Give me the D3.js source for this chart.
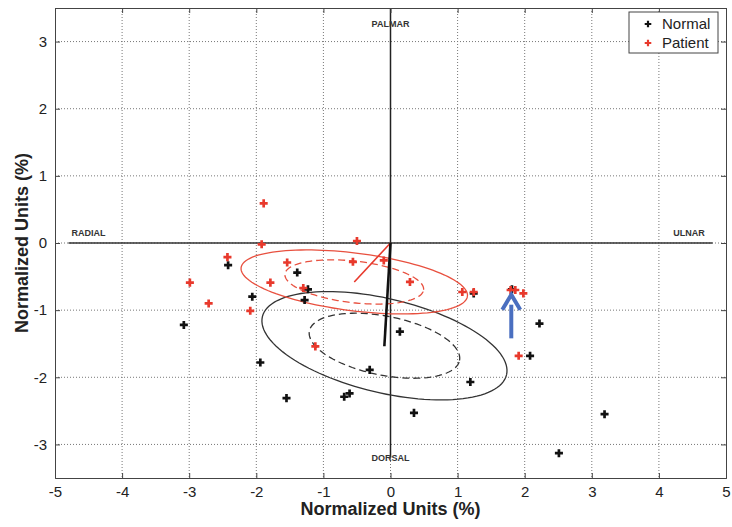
<!DOCTYPE html>
<html>
<head>
<meta charset="utf-8">
<script src="https://cdn.jsdelivr.net/npm/d3@7"></script>
<style>
  body { margin: 0; background: #fff; }
  svg { font-family: "Liberation Sans", Arial, sans-serif; }
</style>
</head>
<body>
<svg width="732" height="527"></svg>
<script>
let svg = d3.select("svg");

// ticks
const xTicks = [-5, -4, -3, -2, -1, 0, 1, 2, 3, 4, 5];
const yTicks = [-3, -2, -1, 0, 1, 2, 3];

// Normal group (black)
const normalX = [-3.08, -2.06, -2.42, -1.94, -1.55, -1.39, -1.23, -1.28, -0.69, -0.61,
                 -0.31, 0.14, 0.35, 1.19, 1.24, 1.81, 2.22, 2.08, 3.19, 2.51];
const normalY = [-1.22, -0.80, -0.33, -1.78, -2.31, -0.44, -0.69, -0.85, -2.29, -2.24,
                 -1.89, -1.32, -2.53, -2.07, -0.75, -0.69, -1.20, -1.68, -2.55, -3.13];

// Patient group (red)
const patientX = [-1.89, -1.92, -0.50, -2.43, -2.99, -1.54, -0.56, -1.79, -1.30, -2.71,
                  -2.09, -0.10, 0.29, 1.07, 1.24, 1.79, 1.86, 1.98, 1.91, -1.12];
const patientY = [0.59, -0.02, 0.03, -0.21, -0.59, -0.29, -0.28, -0.59, -0.67, -0.90,
                  -1.01, -0.26, -0.58, -0.73, -0.73, -0.70, -0.70, -0.75, -1.68, -1.54];

// ellipses (centre, semi axes, angle in degrees)
const ellipseGroup = ["Normal", "Normal", "Patient", "Patient"];
const ellipseKind = ["outer", "inner", "outer", "inner"];
const ellipseCx = [-0.09, -0.09, -0.54, -0.54];
const ellipseCy = [-1.53, -1.53, -0.58, -0.58];
const ellipseRx = [1.87, 1.14, 1.70, 1.04];
const ellipseRy = [0.70, 0.44, 0.43, 0.31];
const ellipseAngle = [-13.4, -11.1, -7.2, -6.5];

// direction labels
const dirLabels = ["PALMAR", "RADIAL", "ULNAR", "DORSAL"];
const dirX = [0, -4.5, 4.45, 0];
const dirY = [3.22, 0.1, 0.1, -3.25];

// blue arrow (annotation)
const arrowX = 1.8;
const arrowY = [-1.42, -0.77];

const red = "#e8392c";
const black = "#111";

let x = d3.scaleLinear().domain([-5, 5]).range([55, 726]);
let y = d3.scaleLinear().domain([-3.5, 3.5]).range([478, 8]);

// grille pointillée
svg.append("g")
    .selectAll("line")
    .data(xTicks.slice(1, -1))
    .join("line")
    .attr("x1", d => x(d)).attr("x2", d => x(d))
    .attr("y1", y(3.5)).attr("y2", y(-3.5))
    .attr("stroke", "#777")
    .attr("stroke-width", 1)
    .attr("stroke-dasharray", "1,2");

svg.append("g")
    .selectAll("line")
    .data(yTicks)
    .join("line")
    .attr("x1", x(-5)).attr("x2", x(5))
    .attr("y1", d => y(d)).attr("y2", d => y(d))
    .attr("stroke", "#777")
    .attr("stroke-width", 1)
    .attr("stroke-dasharray", "1,2");

// axes du repère (lignes pleines)
svg.append("line")
    .attr("x1", x(-4.8)).attr("x2", x(4.8))
    .attr("y1", y(0)).attr("y2", y(0))
    .attr("stroke", "#333")
    .attr("stroke-width", 1.6);

svg.append("line")
    .attr("x1", x(0)).attr("x2", x(0))
    .attr("y1", y(3.5)).attr("y2", y(-3.2))
    .attr("stroke", "#222")
    .attr("stroke-width", 1.5);

// cadre + ticks
let noLabel = () => "";
let axisX = d3.axisBottom(x).tickValues(xTicks).tickSize(-5).tickPadding(8).tickFormat(d3.format("d"));
let axisY = d3.axisLeft(y).tickValues(yTicks).tickSize(-5).tickPadding(8).tickFormat(d3.format("d"));

let gx = svg.append("g").attr("transform", `translate(0,${y(-3.5)})`).call(axisX);
let gy = svg.append("g").attr("transform", `translate(${x(-5)},0)`).call(axisY);
svg.append("g").attr("transform", `translate(0,${y(3.5)})`)
    .call(d3.axisTop(x).tickValues(xTicks).tickSize(-5).tickFormat(noLabel));
svg.append("g").attr("transform", `translate(${x(5)},0)`)
    .call(d3.axisRight(y).tickValues(yTicks).tickSize(-5).tickFormat(noLabel));

svg.selectAll(".domain").attr("stroke", "#444");
svg.selectAll(".tick line").attr("stroke", "#444");
[gx, gy].forEach(g => g.selectAll(".tick text")
    .attr("font-size", 15)
    .attr("fill", "#222")
    .attr("font-family", "Liberation Sans, Arial, sans-serif")
    .text(d => d < 0 ? "-" + Math.abs(d) : d));

// titres des axes
svg.append("text")
    .attr("x", x(0))
    .attr("y", 515)
    .attr("text-anchor", "middle")
    .attr("font-size", 18)
    .attr("font-weight", "bold")
    .attr("fill", "#222")
    .text("Normalized Units (%)");

svg.append("text")
    .attr("transform", `translate(28,${y(0)}) rotate(-90)`)
    .attr("text-anchor", "middle")
    .attr("font-size", 18)
    .attr("font-weight", "bold")
    .attr("fill", "#222")
    .text("Normalized Units (%)");

// labels de direction
svg.append("g")
    .selectAll("text")
    .data(dirLabels)
    .join("text")
    .attr("x", (d, i) => x(dirX[i]))
    .attr("y", (d, i) => y(dirY[i]))
    .attr("text-anchor", "middle")
    .attr("font-size", 9)
    .attr("font-weight", "bold")
    .attr("fill", "#333")
    .text(d => d);

// ellipses
function ellipsePoints(i) {
    let a = ellipseAngle[i] * Math.PI / 180;
    return d3.range(0, 361, 3).map(t => {
        let r = t * Math.PI / 180;
        let ex = ellipseRx[i] * Math.cos(r), ey = ellipseRy[i] * Math.sin(r);
        return [ellipseCx[i] + ex * Math.cos(a) - ey * Math.sin(a),
                ellipseCy[i] + ex * Math.sin(a) + ey * Math.cos(a)];
    });
}
let line = d3.line().x(d => x(d[0])).y(d => y(d[1]));

svg.append("g")
    .selectAll("path")
    .data(ellipseGroup)
    .join("path")
    .attr("d", (d, i) => line(ellipsePoints(i)))
    .attr("fill", "none")
    .attr("stroke", d => d == "Normal" ? "#333" : "#e8503f")
    .attr("stroke-width", 1.3)
    .attr("stroke-dasharray", (d, i) => ellipseKind[i] == "inner" ? "7,4" : null);

// vecteurs moyens
let means = [
    { g: "Patient", mx: d3.mean(patientX), my: d3.mean(patientY) },
    { g: "Normal", mx: d3.mean(normalX), my: d3.mean(normalY) }
];
svg.append("g")
    .selectAll("line")
    .data(means)
    .join("line")
    .attr("x1", x(0)).attr("y1", y(0))
    .attr("x2", d => x(d.mx)).attr("y2", d => y(d.my))
    .attr("stroke", d => d.g == "Normal" ? "#111" : red)
    .attr("stroke-width", d => d.g == "Normal" ? 2.6 : 1.6);

// points
let sym = d3.symbol().type(d3.symbolCross).size(36);

svg.append("g")
    .selectAll("path")
    .data(normalX)
    .join("path")
    .attr("d", sym)
    .attr("transform", (d, i) => `translate(${x(d)},${y(normalY[i])})`)
    .attr("fill", black);

svg.append("g")
    .selectAll("path")
    .data(patientX)
    .join("path")
    .attr("d", sym)
    .attr("transform", (d, i) => `translate(${x(d)},${y(patientY[i])})`)
    .attr("fill", red);

// flèche bleue
let ax = x(arrowX), ay0 = y(arrowY[0]), ay1 = y(arrowY[1]);
svg.append("line")
    .attr("x1", ax).attr("x2", ax)
    .attr("y1", ay0).attr("y2", ay1 + 10)
    .attr("stroke", "#4a6fc0")
    .attr("stroke-width", 4);
svg.append("path")
    .attr("d", `M${ax - 9},${ay1 + 15} L${ax},${ay1} L${ax + 9},${ay1 + 15}`)
    .attr("fill", "none")
    .attr("stroke", "#4a6fc0")
    .attr("stroke-width", 4)
    .attr("stroke-linejoin", "miter");

// légende
let leg = svg.append("g").attr("transform", "translate(629,12)");
leg.append("rect")
    .attr("width", 89).attr("height", 41)
    .attr("fill", "#fff")
    .attr("stroke", "#444");
let legItems = ["Normal", "Patient"];
leg.selectAll("path")
    .data(legItems)
    .join("path")
    .attr("d", d3.symbol().type(d3.symbolCross).size(24))
    .attr("transform", (d, i) => `translate(19,${12 + i * 19})`)
    .attr("fill", d => d == "Normal" ? black : red);
leg.selectAll("text")
    .data(legItems)
    .join("text")
    .attr("x", 33)
    .attr("y", (d, i) => 17 + i * 19)
    .attr("font-size", 15)
    .attr("fill", "#222")
    .text(d => d);
</script>
</body>
</html>
